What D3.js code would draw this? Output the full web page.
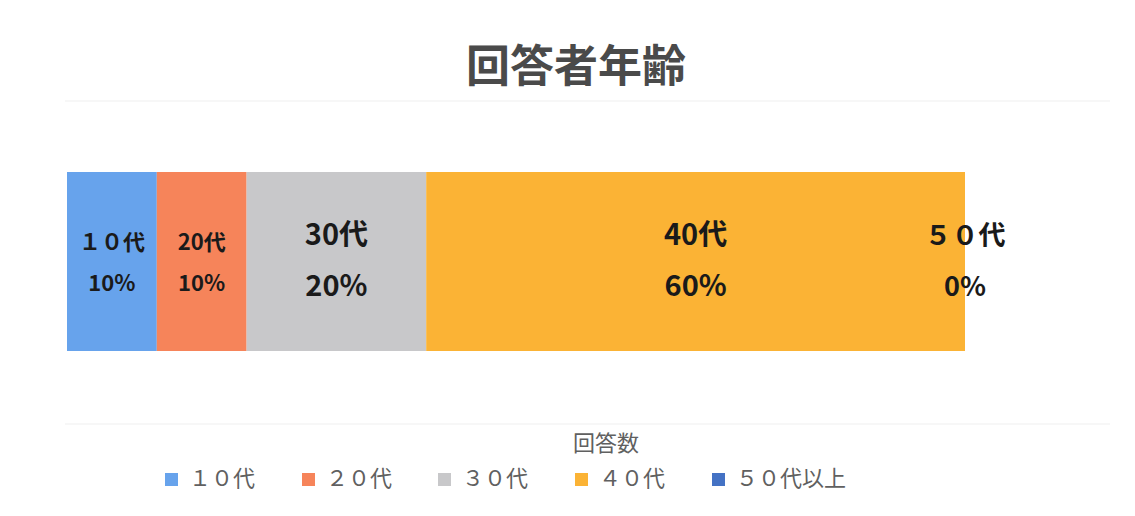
<!DOCTYPE html>
<html>
<head>
<meta charset="utf-8">
<script src="https://cdn.jsdelivr.net/npm/d3@7"></script>
<style>
  body { margin: 0; background: #fff; }
  text { font-family: "Noto Sans CJK JP", "Noto Sans", sans-serif; }
</style>
</head>
<body>
<div id="chart"></div>
<script>
var categories = ["10代", "20代", "30代", "40代", "50代以上"];
var legend_labels = ["１０代", "２０代", "３０代", "４０代", "５０代以上"];
var bar_labels = ["１０代", "20代", "30代", "40代", "５０代"];
var percents = [10, 10, 20, 60, 0];
var colors = ["#67a3ec", "#f6845a", "#c8c8ca", "#fbb335", "#4472c4"];

var W = 1135, H = 516;
var svg = d3.select("#chart").append("svg")
            .attr("width", W)
            .attr("height", H);

svg.append("rect").attr("width", W).attr("height", H).attr("fill", "#fff");

// title
svg.append("text")
   .attr("x", 576).attr("y", 82)
   .attr("text-anchor", "middle")
   .attr("font-size", 44)
   .attr("font-weight", "bold")
   .attr("fill", "#4a4a4a")
   .text("回答者年齢");

// faint rules
svg.selectAll("line.rule")
   .data([101, 424])
   .enter().append("line")
   .attr("x1", 65).attr("x2", 1110)
   .attr("y1", d => d).attr("y2", d => d)
   .attr("stroke", "#efefef");

var x = d3.scaleLinear().domain([0, 100]).range([67, 965]);
var y = d3.scaleBand().domain(["回答数"]).range([172, 351]);

var stacked = [];
var acc = 0;
percents.forEach(function (p, i) {
  stacked.push({ name: categories[i], label: bar_labels[i], value: p, x0: acc, x1: acc + p, color: colors[i] });
  acc += p;
});

svg.append("g").selectAll("rect")
   .data(stacked)
   .enter().append("rect")
   .attr("x", d => x(d.x0))
   .attr("y", y("回答数"))
   .attr("width", d => x(d.x1) - x(d.x0))
   .attr("height", y.bandwidth())
   .attr("fill", d => d.color);

// label size: narrow segments small, others large
var fsize = function (d) {
  if (d.value === 0) return 27;
  return d.value >= 20 ? 29 : 22;
};
var labels = svg.append("g").selectAll("g")
   .data(stacked)
   .enter().append("g")
   .attr("transform", d => "translate(" + ((x(d.x0) + x(d.x1)) / 2) + ",0)");

labels.append("text")
   .attr("text-anchor", "middle")
   .attr("y", d => fsize(d) > 25 ? 245 : 250)
   .attr("font-size", fsize)
   .attr("font-weight", "bold")
   .attr("fill", "#1a1a1a")
   .text(d => d.label);

labels.append("text")
   .attr("text-anchor", "middle")
   .attr("y", d => fsize(d) > 25 ? 296 : 291)
   .attr("font-size", fsize)
   .attr("font-weight", "bold")
   .attr("fill", "#1a1a1a")
   .text(d => d.value + "%");

// axis title
svg.append("text")
   .attr("x", 606).attr("y", 451)
   .attr("text-anchor", "middle")
   .attr("font-size", 22)
   .attr("fill", "#606060")
   .text("回答数");

// legend
var legend_x = [165, 302, 438, 575, 712];
var legend = svg.append("g").selectAll("g")
   .data(legend_labels)
   .enter().append("g")
   .attr("transform", (d, i) => "translate(" + legend_x[i] + ",0)");

legend.append("rect")
   .attr("x", 0).attr("y", 473)
   .attr("width", 13).attr("height", 13)
   .attr("fill", (d, i) => colors[i]);

legend.append("text")
   .attr("x", 24).attr("y", 486)
   .attr("font-size", 22)
   .attr("fill", "#606060")
   .text(d => d);
</script>
</body>
</html>
